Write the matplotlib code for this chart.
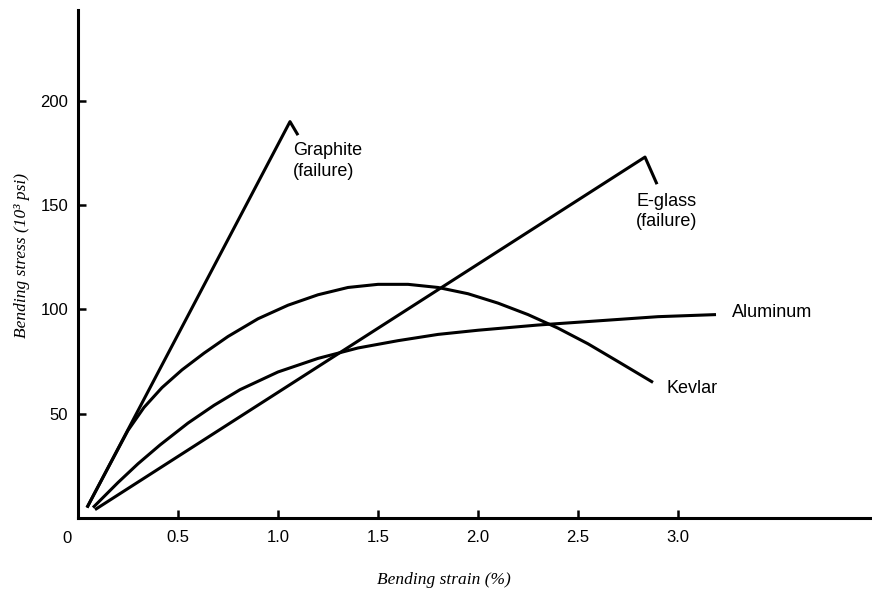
import matplotlib.pyplot as plt

# values (strain in %, stress in 10^3 psi)
graphite_x = [0.045, 1.06, 1.10]
graphite_y = [5, 190, 183.5]

eglass_x = [0.085, 2.835, 2.895]
eglass_y = [4, 173, 160]

kevlar_x = [0.045, 0.15, 0.25, 0.33, 0.42, 0.52, 0.63, 0.75, 0.9, 1.05, 1.2, 1.35, 1.5,
            1.65, 1.8, 1.95, 2.1, 2.25, 2.4, 2.55, 2.7, 2.875]
kevlar_y = [5, 24, 42, 53, 62.5, 71, 79, 87, 95.5, 102, 107, 110.5, 112,
            112, 110.5, 107.5, 103, 97.5, 91, 83.5, 75, 65]

alum_x = [0.075, 0.2, 0.3, 0.41, 0.55, 0.68, 0.81, 1.0, 1.2, 1.4, 1.6, 1.8,
          2.0, 2.3, 2.6, 2.9, 3.19]
alum_y = [5, 17, 26, 35, 45.5, 54, 61.5, 70, 76.5, 81.5, 85, 88,
          90, 92.5, 94.5, 96.5, 97.5]

xticks = [0.5, 1.0, 1.5, 2.0, 2.5, 3.0]
xlabels = ['0.5', '1.0', '1.5', '2.0', '2.5', '3.0']
yticks = [50, 100, 150, 200]

plt.rcParams['font.family'] = ['Liberation Sans', 'DejaVu Sans']

fig = plt.figure(figsize=(8.72, 6), dpi=100)
ax = fig.add_axes([78 / 872, 82 / 600, 792 / 872, 508 / 600])

lw = 2.2
for xs, ys in [(graphite_x, graphite_y), (eglass_x, eglass_y),
               (kevlar_x, kevlar_y), (alum_x, alum_y)]:
    ax.plot(xs, ys, color='black', lw=lw, solid_capstyle='butt',
            solid_joinstyle='round', clip_on=False)

ax.set_xlim(0, 3.96)
ax.set_ylim(0, 243.5)

ax.spines['top'].set_visible(False)
ax.spines['right'].set_visible(False)
for s in ['left', 'bottom']:
    ax.spines[s].set_linewidth(2.2)

ax.set_xticks(xticks)
ax.set_xticklabels(xlabels)
ax.set_yticks(yticks)
ax.tick_params(direction='in', length=6, width=1.8, labelsize=12)
ax.tick_params(axis='x', pad=9)
ax.tick_params(axis='y', pad=7)

# origin label sits below the corner
ax.text(-0.055, -10, '0', ha='center', va='center', fontsize=12, clip_on=False)

# curve labels
ax.text(1.075, 180, 'Graphite\n(failure)', ha='left', va='top', fontsize=13,
        linespacing=1.25)
ax.text(2.79, 156, 'E-glass\n(failure)', ha='left', va='top', fontsize=13,
        linespacing=1.25)
ax.text(3.27, 98.3, 'Aluminum', ha='left', va='center', fontsize=13)
ax.text(2.945, 62.3, 'Kevlar', ha='left', va='center', fontsize=13)

serif_it = dict(family=['Liberation Serif', 'DejaVu Serif'], style='italic',
                fontsize=12.5)
fig.text(444 / 872, 1 - 580 / 600, 'Bending strain (%)', ha='center',
         va='center', **serif_it)
fig.text(22 / 872, 1 - 255 / 600, 'Bending stress (10³ psi)', ha='center',
         va='center', rotation=90, **serif_it)

plt.savefig('out.png', dpi=100)
